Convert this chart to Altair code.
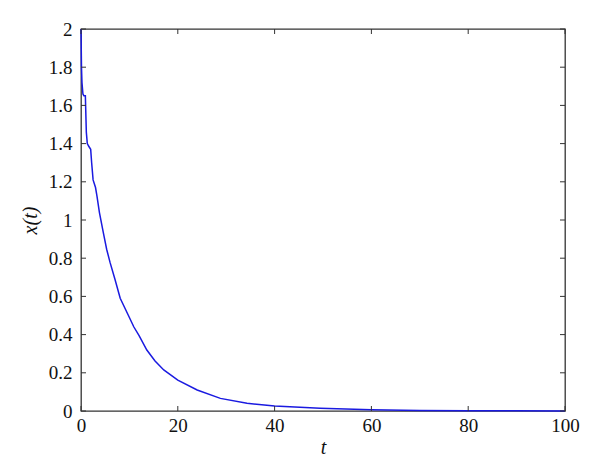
import altair as alt
import pandas as pd

t_vals = [0, 0.1, 0.2, 0.4, 0.6, 0.9, 1.1, 1.3, 1.6, 2.0, 2.2, 2.5, 3.0, 3.3, 3.8,
          4.6, 5.3, 6.0, 7.0, 8.1, 9.8, 10.9, 12.0, 13.6, 15.3, 17.1, 20, 24, 28.8,
          34.3, 40, 49.4, 60, 70, 80, 90, 100]
x_vals = [2.0, 1.80, 1.72, 1.66, 1.65, 1.65, 1.46, 1.40, 1.386, 1.37, 1.30, 1.21,
          1.17, 1.125, 1.04, 0.935, 0.847, 0.778, 0.691, 0.59, 0.50, 0.441, 0.395,
          0.319, 0.262, 0.215, 0.162, 0.110, 0.066, 0.040, 0.026, 0.014, 0.006,
          0.003, 0.0015, 0.0007, 0.0003]
x_ticks = [0, 20, 40, 60, 80, 100]
y_ticks = [0, 0.2, 0.4, 0.6, 0.8, 1, 1.2, 1.4, 1.6, 1.8, 2]

W, H = 484, 382
FONT = "'Liberation Serif', 'Times New Roman', 'DejaVu Serif', serif"
AX = "#333333"

df = pd.DataFrame({"t": t_vals, "x": x_vals})
xt = pd.DataFrame({"v": x_ticks})
yt = pd.DataFrame({"v": y_ticks})

xscale = alt.Scale(domain=[0, 100], nice=False)
yscale = alt.Scale(domain=[0, 2], nice=False)

common = dict(ticks=False, grid=False, domain=False, labelFont=FONT,
              labelFontSize=19, labelColor="#111", labelOverlap=False,
              labelFlush=False, labelExpr="datum.value", titleFont=FONT,
              titleFontSize=20, titleFontStyle="italic",
              titleFontWeight="normal", titleColor="#111")
xaxis = alt.Axis(values=x_ticks, title="t", labelPadding=5, titlePadding=2, **common)
yaxis = alt.Axis(values=y_ticks, title="x(t)", labelPadding=9, titlePadding=8, **common)

line = alt.Chart(df).mark_line(color="#1a1ae0", strokeWidth=1.5).encode(
    x=alt.X("t:Q", scale=xscale, axis=xaxis),
    y=alt.Y("x:Q", scale=yscale, axis=yaxis),
)

tick_len = 5
bottom_ticks = alt.Chart(xt).mark_rule(color=AX, strokeWidth=1).encode(
    x=alt.X("v:Q", scale=xscale, axis=xaxis), y=alt.value(H), y2=alt.value(H - tick_len))
top_ticks = alt.Chart(xt).mark_rule(color=AX, strokeWidth=1).encode(
    x=alt.X("v:Q", scale=xscale, axis=xaxis), y=alt.value(0), y2=alt.value(tick_len))
left_ticks = alt.Chart(yt).mark_rule(color=AX, strokeWidth=1).encode(
    y=alt.Y("v:Q", scale=yscale, axis=yaxis), x=alt.value(0), x2=alt.value(tick_len))
right_ticks = alt.Chart(yt).mark_rule(color=AX, strokeWidth=1).encode(
    y=alt.Y("v:Q", scale=yscale, axis=yaxis), x=alt.value(W), x2=alt.value(W - tick_len))

chart = alt.layer(line, bottom_ticks, top_ticks, left_ticks, right_ticks).properties(
    width=W, height=H,
    autosize=alt.AutoSizeParams(type="none"),
    padding={"left": 73, "top": 21, "right": 27, "bottom": 55},
    background="white",
).configure_view(stroke=AX, strokeWidth=1.3)

chart.save("out.html", embed_options={"renderer": "svg", "actions": False})
